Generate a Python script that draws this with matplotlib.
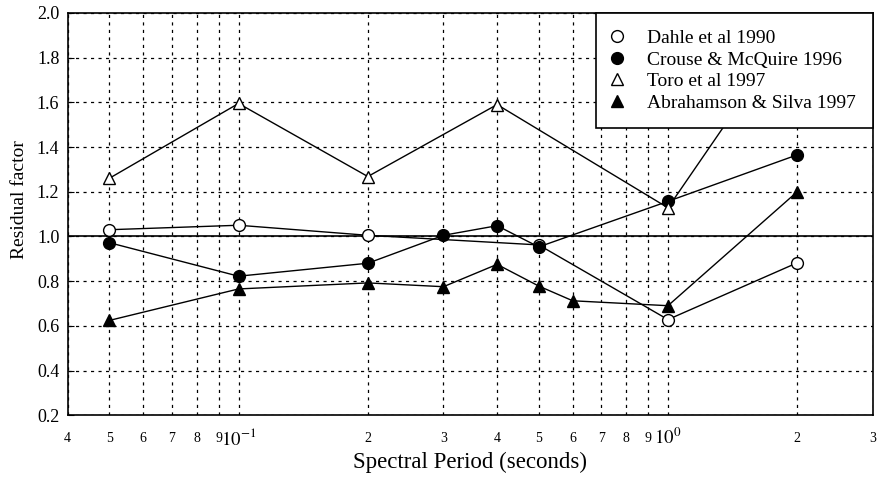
import numpy as np
import matplotlib.pyplot as plt
from matplotlib.ticker import FixedLocator, FixedFormatter
from matplotlib.lines import Line2D

plt.rcParams['font.family'] = ['Liberation Serif', 'DejaVu Serif']
plt.rcParams['mathtext.fontset'] = 'stix'

dahle_t = [0.05, 0.1, 0.2, 0.5, 1.0, 2.0]
dahle_r = [1.03, 1.05, 1.005, 0.962, 0.628, 0.882]

crouse_t = [0.05, 0.1, 0.2, 0.3, 0.4, 0.5, 1.0, 2.0]
crouse_r = [0.972, 0.822, 0.88, 1.005, 1.048, 0.953, 1.157, 1.365]

toro_t = [0.05, 0.1, 0.2, 0.4, 1.0, 2.0]
toro_r = [1.26, 1.595, 1.268, 1.59, 1.128, 1.97]

abr_t = [0.05, 0.1, 0.2, 0.3, 0.4, 0.5, 0.6, 1.0, 2.0]
abr_r = [0.624, 0.765, 0.792, 0.775, 0.875, 0.778, 0.712, 0.69, 1.2]

labels = ["Dahle et al 1990", "Crouse & McQuire 1996",
          "Toro et al 1997", "Abrahamson & Silva 1997"]

fig = plt.figure(figsize=(8.79, 4.8), dpi=100)
ax = fig.add_axes([0.077, 0.135, 0.916, 0.838])

ms = 8.5
ax.plot(dahle_t, dahle_r, 'k-', lw=1, marker='o', ms=ms, mfc='white', mec='k', zorder=3)
ax.plot(crouse_t, crouse_r, 'k-', lw=1, marker='o', ms=ms, mfc='black', mec='k', zorder=3)
ax.plot(toro_t, toro_r, 'k-', lw=1, marker='^', ms=ms, mfc='white', mec='k', zorder=3)
ax.plot(abr_t, abr_r, 'k-', lw=1, marker='^', ms=ms, mfc='black', mec='k', zorder=3)

ax.axhline(1.0, color='black', lw=1.2, zorder=2)

ax.set_xscale('log')
ax.set_xlim(0.04, 3)
ax.set_ylim(0.2, 2.0)

major = [0.1, 1.0]
minor = [0.04, 0.05, 0.06, 0.07, 0.08, 0.09, 0.2, 0.3, 0.4, 0.5, 0.6, 0.7, 0.8, 0.9, 2, 3]
minor_lab = ['4', '5', '6', '7', '8', '9', '2', '3', '4', '5', '6', '7', '8', '9', '2', '3']
ax.xaxis.set_major_locator(FixedLocator(major))
ax.xaxis.set_major_formatter(FixedFormatter([r'$10^{-1}$', r'$10^{0}$']))
ax.xaxis.set_minor_locator(FixedLocator(minor))
ax.xaxis.set_minor_formatter(FixedFormatter(minor_lab))
ax.set_yticks(np.arange(0.2, 2.01, 0.2))
ax.set_yticklabels(['%.1f' % v for v in np.arange(0.2, 2.01, 0.2)])

ax.tick_params(axis='x', which='major', direction='in', length=0, labelsize=13.5, pad=9)
ax.tick_params(axis='x', which='minor', direction='in', length=0, labelsize=10, pad=12)
ax.tick_params(axis='y', direction='in', length=4, labelsize=13, pad=6)

grid_style = dict(color='black', lw=0.9, linestyle=(0, (2.5, 3.5)))
ax.grid(True, which='both', axis='x', **grid_style)
ax.grid(True, which='major', axis='y', **grid_style)
ax.set_axisbelow(True)

for s in ax.spines.values():
    s.set_linewidth(1.2)

ax.set_xlabel('Spectral Period (seconds)', fontsize=16.5, labelpad=2)
ax.set_ylabel('Residual factor', fontsize=14)
ax.yaxis.set_label_coords(-0.049, 0.535)

handles = [
    Line2D([], [], ls='none', marker='o', ms=ms, mfc='white', mec='k'),
    Line2D([], [], ls='none', marker='o', ms=ms, mfc='black', mec='k'),
    Line2D([], [], ls='none', marker='^', ms=ms, mfc='white', mec='k'),
    Line2D([], [], ls='none', marker='^', ms=ms, mfc='black', mec='k'),
]
leg = ax.legend(handles, labels, loc='upper right', bbox_to_anchor=(1.0, 1.0),
                fontsize=14, frameon=True, fancybox=False, framealpha=1,
                edgecolor='black', borderaxespad=0, handlelength=0.5,
                handletextpad=1.3, borderpad=0.85, labelspacing=0.2)
leg.get_frame().set_linewidth(1.2)
leg.set_zorder(5)

fig.savefig('out.png', dpi=100)
